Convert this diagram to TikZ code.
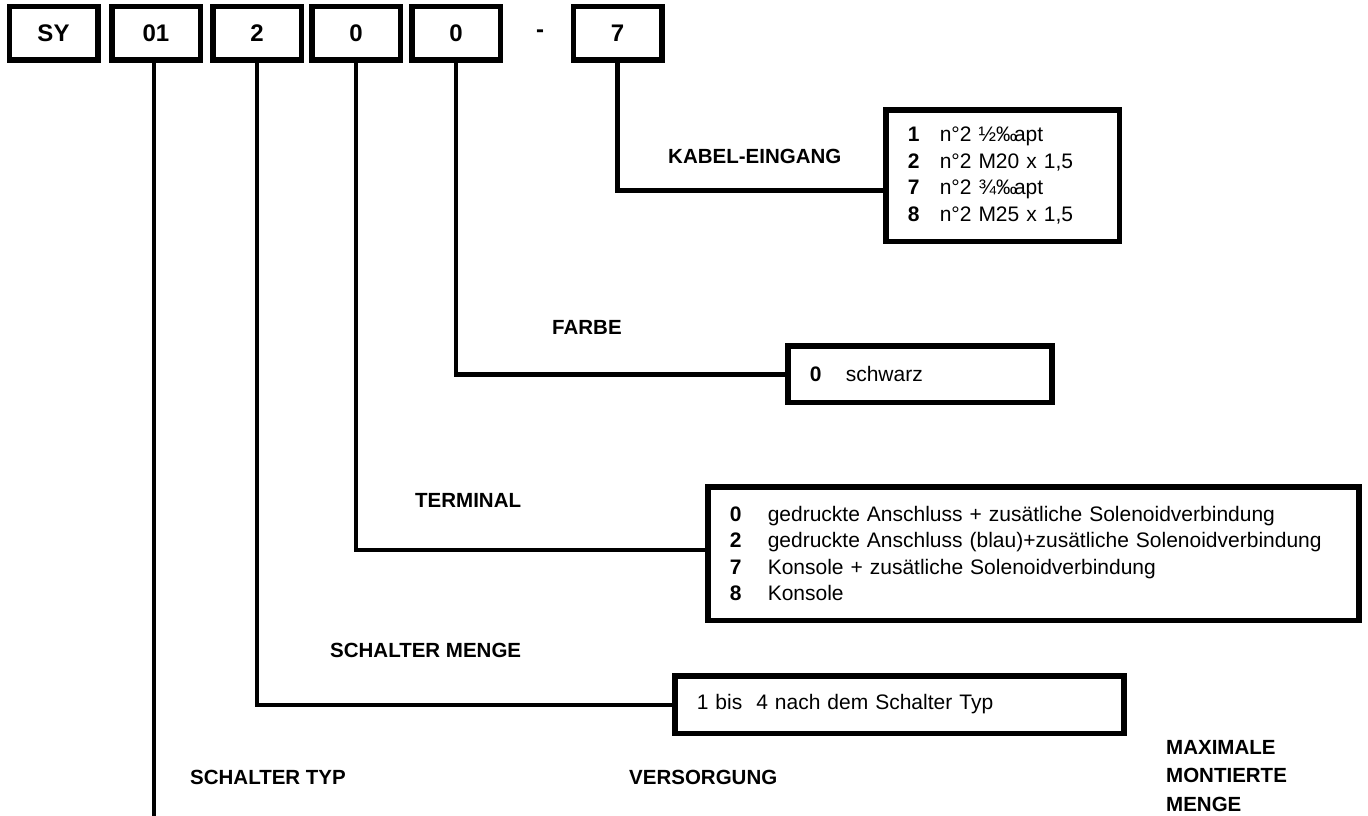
\documentclass[tikz,border=0pt]{standalone}
\usepackage{fontspec}
\setmainfont{Liberation Sans}
\begin{document}
\begin{tikzpicture}[x=1pt,y=-1pt,
  topbox/.style={draw, line width=5.5pt, minimum width=88.5pt, minimum height=53.5pt, inner sep=0pt, font=\fontsize{24}{28}\selectfont\bfseries},
  listbox/.style={draw, line width=5.5pt, inner xsep=22pt, inner ysep=0pt, align=left, anchor=north west, font=\fontsize{21}{26.5}\selectfont},
  conn/.style={line width=4.5pt},
  lbl/.style={anchor=west, inner sep=0pt, font=\fontsize{20.5}{24}\selectfont\bfseries},
]
\fill[white] (0,0) rectangle (1368,816);
\useasboundingbox (0,0) rectangle (1368,816);
\newcommand{\nb}[2][34pt]{\makebox[#1][l]{\textbf{#2}}}

% top code boxes
\node[topbox] (sy) at (53.5,33.5) {SY};
\node[topbox] (b01) at (156,33.5) {01};
\node[topbox] (b2) at (257,33.5) {2};
\node[topbox] (b0a) at (356,33.5) {0};
\node[topbox] (b0b) at (456,33.5) {0};
\node[font=\fontsize{24}{28}\selectfont\bfseries] (dash) at (540,33.5) {-};
\node[topbox] (b7) at (617.5,33.5) {7};

% option boxes
\node[listbox, text width=189.5pt, minimum height=131.5pt] (kabel) at (883,107)
 {\nb[32pt]{1}n°2 ½‰\kern-3pt apt\\ \nb[32pt]{2}n°2 M20 x 1,5\\ \nb[32pt]{7}n°2 ¾‰\kern-3pt apt\\ \nb[32pt]{8}n°2 M25 x 1,5};
\node[listbox, text width=220pt, minimum height=56.5pt] (farbe) at (785,343)
 {\nb[36pt]{0}schwarz};
\node[listbox, text width=607pt, minimum height=133.5pt] (terminal) at (705,484)
 {\nb[38pt]{0}gedruckte Anschluss + zusätliche Solenoidverbindung\\
  \nb[38pt]{2}gedruckte Anschluss (blau)+zusätliche Solenoidverbindung\\
  \nb[38pt]{7}Konsole + zusätliche Solenoidverbindung\\
  \nb[38pt]{8}Konsole};
\node[listbox, text width=405pt, minimum height=57.5pt] (menge) at (672,673)
 {1 bis\ \ 4 nach dem Schalter Typ};

% connectors
\coordinate (end01) at (154,816);
\draw[conn] (b01.south -| end01) -- (end01);
\draw[conn] (b2.south) |- ([yshift=-0.5pt]menge.west);
\draw[conn] (b0a.south) |- ([yshift=3.5pt]terminal.west);
\draw[conn] (b0b.south) |- ([yshift=-0.5pt]farbe.west);
\draw[conn] (b7.south) |- ([yshift=-15pt]kabel.west);

% labels
\node[lbl] (lkabel) at (668,156) {KABEL-EINGANG};
\node[lbl] (lfarbe) at (552,327) {FARBE};
\node[lbl] (lterm) at (415,500) {TERMINAL};
\node[lbl] (lmenge) at (330,650) {SCHALTER MENGE};
\node[lbl] (ltyp) at (190,777) {SCHALTER TYP};
\node[lbl] (lvers) at (629,777) {VERSORGUNG};
\node[lbl, align=left, font=\fontsize{20.5}{28.5}\selectfont\bfseries] (lmax) at (1166,776) {MAXIMALE\\MONTIERTE\\MENGE};
\end{tikzpicture}
\end{document}
